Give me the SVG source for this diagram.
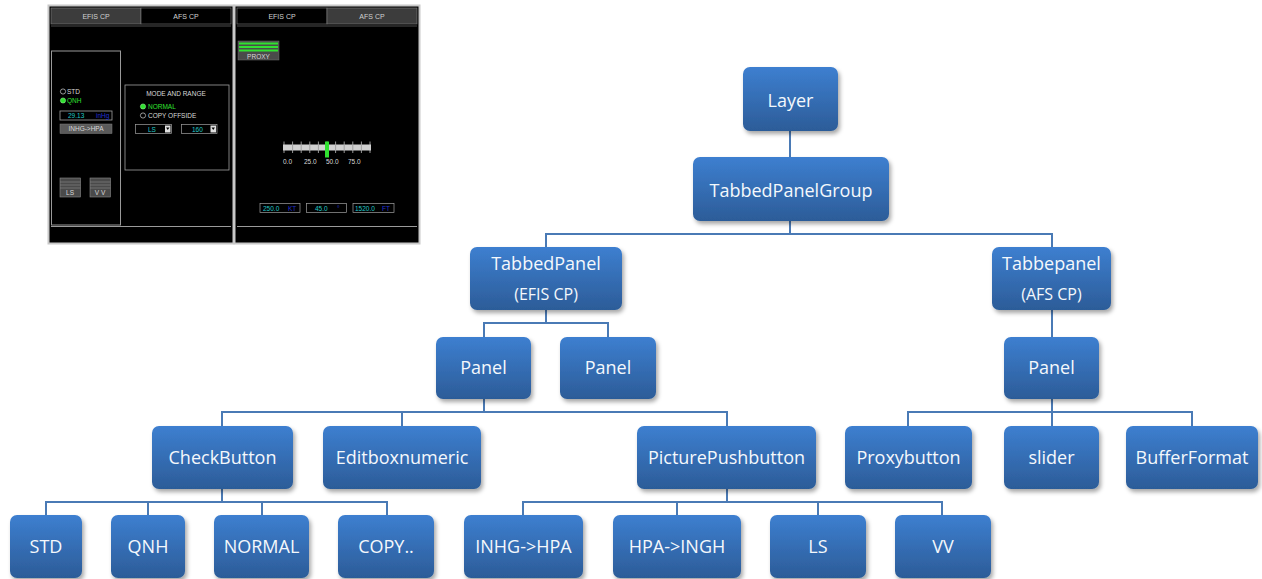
<svg xmlns="http://www.w3.org/2000/svg" width="1262" height="579" viewBox="0 0 1262 579">
<defs>
<linearGradient id="g" x1="0" y1="0" x2="0" y2="1">
<stop offset="0" stop-color="#3d7fd0"/>
<stop offset="1" stop-color="#2c5c98"/>
</linearGradient>
<filter id="sh" x="-20%" y="-20%" width="150%" height="160%">
<feDropShadow dx="2" dy="3" stdDeviation="2" flood-color="#000" flood-opacity="0.35"/>
</filter>
<style>
.n rect{fill:url(#g);filter:url(#sh)}
.n text{font-family:"Open Sans","Liberation Sans",sans-serif;font-size:18px;fill:#f4f8fc;text-anchor:middle}
.n text.s{font-size:16px}
.c path{fill:none;stroke:#4a7ab5;stroke-width:2}
.ui{font-family:"Liberation Sans",Arial,sans-serif;font-size:6.5px;fill:#d8d8d8}
.tab{font-family:"Liberation Sans",Arial,sans-serif;font-size:7px;fill:#d0d0d0;text-anchor:middle}
.cy{fill:#20c8c8}
.bl{fill:#2030d0}
.gr{fill:#30e030}
</style>
</defs>
<rect width="1262" height="579" fill="#fff"/>

<!-- screenshot left: EFIS CP -->
<g id="screen-efis">
<rect x="48.5" y="5.5" width="185" height="238" fill="#000" stroke="#c8c8c8" stroke-width="2"/>
<rect x="51" y="8" width="90" height="16" fill="#3c3c3c" stroke="#808080" stroke-width="0.6"/>
<rect x="141" y="8" width="90" height="16" fill="#000" stroke="#808080" stroke-width="0.6"/>
<text class="tab" x="96" y="18.5">EFIS CP</text>
<text class="tab" x="186" y="18.5" fill="#e8e8e8">AFS CP</text>
<line x1="51" y1="26" x2="231" y2="26" stroke="#808080" stroke-width="0.6"/>
<rect x="51.5" y="51" width="69" height="174" fill="none" stroke="#9a9a9a" stroke-width="1"/>
<line x1="51" y1="226.5" x2="231" y2="226.5" stroke="#9a9a9a" stroke-width="1"/>
<circle cx="63" cy="91.5" r="2.6" fill="none" stroke="#d0d0d0" stroke-width="0.7"/>
<text class="ui" x="67" y="94">STD</text>
<circle cx="63" cy="100.5" r="2.6" fill="#30e030" stroke="#a0ffa0" stroke-width="0.5"/>
<text class="ui gr" x="67" y="103">QNH</text>
<rect x="60" y="111" width="52" height="9" fill="#000" stroke="#a0a0a0" stroke-width="0.8"/>
<text class="ui cy" x="68" y="118">29.13</text>
<text class="ui bl" x="96" y="118">inHg</text>
<rect x="60" y="124" width="52" height="9.5" fill="#5a5a5a" stroke="#808080" stroke-width="0.5"/>
<text class="ui" x="86" y="131" text-anchor="middle">INHG-&gt;HPA</text>
<rect x="60" y="178" width="20.5" height="19" fill="#4a4a4a" stroke="#8a8a8a" stroke-width="0.6"/>
<path d="M60 182H80.5M60 185H80.5M60 188H80.5" stroke="#8a8a8a" stroke-width="0.6"/>
<text class="ui" x="70" y="195" text-anchor="middle">LS</text>
<rect x="90" y="178" width="20.5" height="19" fill="#4a4a4a" stroke="#8a8a8a" stroke-width="0.6"/>
<path d="M90 182H110.5M90 185H110.5M90 188H110.5" stroke="#8a8a8a" stroke-width="0.6"/>
<text class="ui" x="100" y="195" text-anchor="middle">V V</text>
<rect x="125" y="85" width="104" height="85" fill="none" stroke="#a0a0a0" stroke-width="0.8"/>
<text class="ui" x="176" y="95.5" text-anchor="middle">MODE AND RANGE</text>
<circle cx="143" cy="106.5" r="2.6" fill="#30e030" stroke="#a0ffa0" stroke-width="0.5"/>
<text class="ui gr" x="148" y="109">NORMAL</text>
<circle cx="143" cy="115.5" r="2.6" fill="none" stroke="#d0d0d0" stroke-width="0.7"/>
<text class="ui" x="148" y="118">COPY OFFSIDE</text>
<rect x="135.5" y="124.5" width="36" height="9" fill="#000" stroke="#a0a0a0" stroke-width="0.7"/>
<text class="ui cy" x="148" y="131.5">LS</text>
<rect x="165" y="125.5" width="5.5" height="7" fill="#e0e0e0"/>
<path d="M166 127.5h3.5l-1.75 2.5z" fill="#000"/>
<rect x="181.5" y="124.5" width="35.5" height="9" fill="#000" stroke="#a0a0a0" stroke-width="0.7"/>
<text class="ui cy" x="192" y="131.5">160</text>
<rect x="210.5" y="125.5" width="5.5" height="7" fill="#e0e0e0"/>
<path d="M211.5 127.5h3.5l-1.75 2.5z" fill="#000"/>
</g>

<!-- screenshot right: AFS CP -->
<g id="screen-afs">
<rect x="234.5" y="5.5" width="185" height="238" fill="#000" stroke="#c8c8c8" stroke-width="2"/>
<rect x="237" y="8" width="90" height="16" fill="#000" stroke="#808080" stroke-width="0.6"/>
<rect x="327" y="8" width="90" height="16" fill="#3c3c3c" stroke="#808080" stroke-width="0.6"/>
<text class="tab" x="282" y="18.5" fill="#e8e8e8">EFIS CP</text>
<text class="tab" x="372" y="18.5">AFS CP</text>
<line x1="237" y1="26" x2="417" y2="26" stroke="#808080" stroke-width="0.6"/>
<rect x="238" y="41" width="41" height="19" fill="#4a4a4a" stroke="#707070" stroke-width="0.5"/>
<rect x="239" y="42.5" width="39" height="2" fill="#30e030"/>
<rect x="239" y="46" width="39" height="2" fill="#30e030"/>
<rect x="239" y="49.5" width="39" height="2" fill="#30e030"/>
<text class="ui" x="258.5" y="58.5" text-anchor="middle">PROXY</text>
<path d="M284 141.5V153M292.6 141.5V153M301.2 141.5V153M309.8 141.5V153M318.4 141.5V153M327 141.5V153M335.6 141.5V153M344.2 141.5V153M352.8 141.5V153M361.4 141.5V153M370 141.5V153" stroke="#d8d8d8" stroke-width="0.7"/>
<rect x="283" y="144.5" width="88" height="6" fill="#d0d0d0"/>
<path d="M292.6 144.5V150.5M301.2 144.5V150.5M309.8 144.5V150.5M318.4 144.5V150.5M335.6 144.5V150.5M344.2 144.5V150.5M352.8 144.5V150.5M361.4 144.5V150.5" stroke="#707070" stroke-width="0.5"/>
<rect x="325" y="141.5" width="4" height="16" fill="#30e030"/>
<text class="ui" x="283" y="164">0.0</text>
<text class="ui" x="304" y="164">25.0</text>
<text class="ui" x="326" y="164">50.0</text>
<text class="ui" x="348" y="164">75.0</text>
<rect x="260" y="203.5" width="40" height="9" fill="#000" stroke="#a0a0a0" stroke-width="0.7"/>
<text class="ui cy" x="263" y="210.5">250.0</text>
<text class="ui bl" x="288" y="210.5">KT</text>
<rect x="306.5" y="203.5" width="40" height="9" fill="#000" stroke="#a0a0a0" stroke-width="0.7"/>
<text class="ui cy" x="315" y="210.5">45.0</text>
<text class="ui bl" x="337" y="210.5">°</text>
<rect x="353" y="203.5" width="41" height="9" fill="#000" stroke="#a0a0a0" stroke-width="0.7"/>
<text class="ui cy" x="355" y="210.5">1520.0</text>
<text class="ui bl" x="382" y="210.5">FT</text>
<line x1="237" y1="226.5" x2="417" y2="226.5" stroke="#9a9a9a" stroke-width="1"/>
</g>

<!-- connectors -->
<g id="connectors" class="c">
<path d="M790 131V157"/>
<path d="M790 221V234M546 247V234H1052V247"/>
<path d="M546 310V323M484 337V323H608V337"/>
<path d="M1052 310V337"/>
<path d="M484 399V412M222 426V412H727V426M402 412V426"/>
<path d="M1052 399V426M908 426V412H1192V426"/>
<path d="M222 489V502M46 515V502H387V515M148 502V515M262 502V515"/>
<path d="M727 489V502M523 515V502H942V515M677 502V515M818 502V515"/>
</g>

<!-- nodes -->
<g id="n-layer" class="n"><rect x="743" y="67" width="95" height="64" rx="7"/><text x="790.5" y="107">Layer</text></g>
<g id="n-tabbedpanelgroup" class="n"><rect x="693" y="157" width="196" height="64" rx="7"/><text x="791" y="197">TabbedPanelGroup</text></g>
<g id="n-tabbedpanel-efis" class="n"><rect x="470" y="247" width="152" height="63" rx="7"/><text x="546" y="270">TabbedPanel</text><text class="s" x="546" y="300">(EFIS CP)</text></g>
<g id="n-tabbepanel-afs" class="n"><rect x="992" y="247" width="119" height="63" rx="7"/><text x="1051.5" y="270">Tabbepanel</text><text class="s" x="1051.5" y="300">(AFS CP)</text></g>
<g id="n-panel1" class="n"><rect x="436" y="337" width="95" height="62" rx="7"/><text x="483.5" y="374">Panel</text></g>
<g id="n-panel2" class="n"><rect x="560" y="337" width="96" height="62" rx="7"/><text x="608" y="374">Panel</text></g>
<g id="n-panel3" class="n"><rect x="1004" y="337" width="95" height="62" rx="7"/><text x="1051.5" y="374">Panel</text></g>
<g id="n-checkbutton" class="n"><rect x="152" y="426" width="141" height="63" rx="7"/><text x="222.5" y="464">CheckButton</text></g>
<g id="n-editboxnumeric" class="n"><rect x="323" y="426" width="158" height="63" rx="7"/><text x="402" y="464">Editboxnumeric</text></g>
<g id="n-picturepushbutton" class="n"><rect x="637" y="426" width="179" height="63" rx="7"/><text x="726.5" y="464">PicturePushbutton</text></g>
<g id="n-proxybutton" class="n"><rect x="845" y="426" width="127" height="63" rx="7"/><text x="908.5" y="464">Proxybutton</text></g>
<g id="n-slider" class="n"><rect x="1004" y="426" width="95" height="63" rx="7"/><text x="1051.5" y="464">slider</text></g>
<g id="n-bufferformat" class="n"><rect x="1126" y="426" width="132" height="63" rx="7"/><text x="1192" y="464">BufferFormat</text></g>
<g id="n-std" class="n"><rect x="10" y="515" width="72" height="63" rx="7"/><text x="46" y="553">STD</text></g>
<g id="n-qnh" class="n"><rect x="111" y="515" width="74" height="63" rx="7"/><text x="148" y="553">QNH</text></g>
<g id="n-normal" class="n"><rect x="214" y="515" width="95" height="63" rx="7"/><text x="261.5" y="553">NORMAL</text></g>
<g id="n-copy" class="n"><rect x="338" y="515" width="96" height="63" rx="7"/><text x="386" y="553">COPY..</text></g>
<g id="n-inhg-hpa" class="n"><rect x="464" y="515" width="119" height="63" rx="7"/><text x="523.5" y="553">INHG-&gt;HPA</text></g>
<g id="n-hpa-ingh" class="n"><rect x="613" y="515" width="128" height="63" rx="7"/><text x="677" y="553">HPA-&gt;INGH</text></g>
<g id="n-ls" class="n"><rect x="770" y="515" width="96" height="63" rx="7"/><text x="818" y="553">LS</text></g>
<g id="n-vv" class="n"><rect x="895" y="515" width="96" height="63" rx="7"/><text x="943" y="553">VV</text></g>
</svg>
